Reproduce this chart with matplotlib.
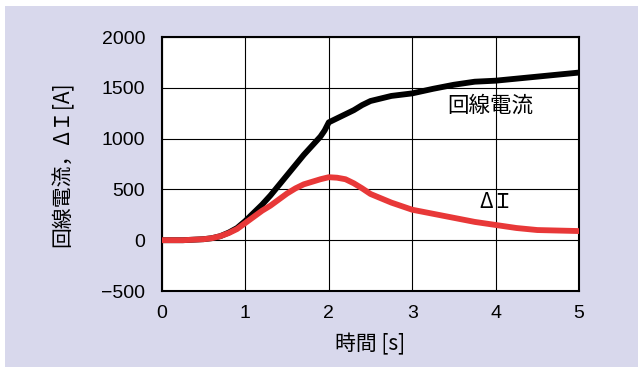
import matplotlib
matplotlib.use("Agg")
import matplotlib.pyplot as plt
from matplotlib.patches import Rectangle

# time [s]
t = [0, 0.25, 0.5, 0.6, 0.7, 0.8, 0.9, 1.0, 1.1, 1.2, 1.3, 1.4, 1.5, 1.6,
     1.7, 1.8, 1.9, 1.95, 2.0, 2.1, 2.2, 2.3, 2.4, 2.5, 2.75, 3.0, 3.25, 3.5,
     3.75, 4.0, 4.25, 4.5, 4.75, 5.0]
# 回線電流
line_cur = [0, 0, 10, 20, 40, 75, 120, 190, 270, 350, 440, 540, 640, 740,
            840, 930, 1020, 1080, 1160, 1200, 1240, 1280, 1330, 1370, 1420, 1445,
            1490, 1530, 1560, 1570, 1590, 1610, 1630, 1650]
# ΔI
delta_i = [0, 0, 10, 20, 40, 70, 110, 170, 230, 290, 340, 400, 460, 510,
           550, 575, 600, 610, 620, 615, 600, 560, 510, 455, 370, 300, 260, 220,
           180, 150, 120, 100, 95, 90]

xticks = [0, 1, 2, 3, 4, 5]
yticks = [-500, 0, 500, 1000, 1500, 2000]

jp = ['Noto Sans CJK JP', 'DejaVu Sans']
num = ['Liberation Sans', 'DejaVu Sans']

fig = plt.figure(figsize=(6.38, 3.67), dpi=100, facecolor='white')
fig.patches.append(Rectangle((5/638, 0), 1, (367-6)/367, transform=fig.transFigure,
                             facecolor='#d8d8ec', edgecolor='none', zorder=-10))

ax = fig.add_axes([162/638, 76/367, (579-162)/638, (291-37)/367])
ax.set_facecolor('white')
ax.plot(t, line_cur, color='black', lw=4.2, zorder=3)
ax.plot(t, delta_i, color='#e83838', lw=4.2, zorder=4)

ax.set_xlim(0, 5)
ax.set_ylim(-500, 2000)
ax.set_xticks(xticks)
ax.set_yticks(yticks)
ax.grid(True, color='black', lw=0.8)
ax.set_axisbelow(True)
ax.tick_params(length=0, labelsize=14)
ax.tick_params(axis='y', pad=12)
ax.tick_params(axis='x', pad=10)
for lab in ax.get_xticklabels() + ax.get_yticklabels():
    lab.set_family(num)
for s in ax.spines.values():
    s.set_linewidth(1.5)

ax.set_xlabel('時間 [s]', family=jp, fontsize=15, labelpad=8)
ax.set_ylabel('回線電流，ΔＩ[A]', family=jp, fontsize=15, labelpad=20)

ax.text(3.42, 1320, '回線電流', family=jp, fontsize=15.5, va='center', ha='left', zorder=5)
ax.text(3.8, 380, 'ΔＩ', family=jp, fontsize=15, va='center', ha='left', zorder=5)

fig.savefig('out.png', dpi=100, facecolor=fig.get_facecolor())
